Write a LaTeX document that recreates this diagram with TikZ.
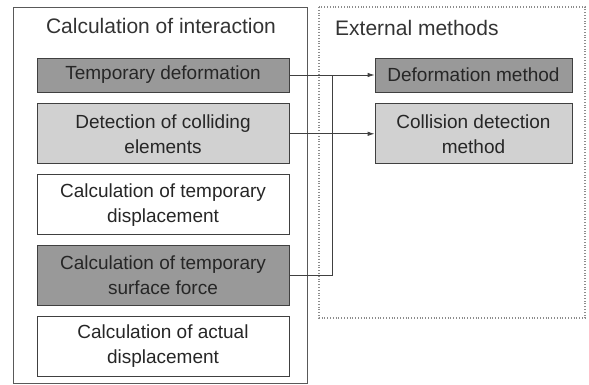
\documentclass[tikz,border=0pt]{standalone}
\usepackage{fontspec}
\setmainfont{Liberation Sans}
\usetikzlibrary{positioning,arrows.meta,calc}

\begin{document}
\begin{tikzpicture}[
  x=1pt, y=1pt,
  font=\fontsize{19}{25}\selectfont,
  box/.style={draw=black!75, line width=0.8pt, align=center, inner sep=2pt, minimum width=252pt, minimum height=60pt, text=black!85},
  dark/.style={box, fill=black!40},
  light/.style={box, fill=black!18},
  head/.style={font=\fontsize{21}{25}\selectfont, text=black!80, inner sep=0pt},
  arr/.style={-{Latex[length=7pt,width=4.5pt]}, draw=black!75, line width=0.8pt},
  wire/.style={draw=black!75, line width=0.8pt},
  frame/.style={draw=black!65, line width=0.8pt}
]
\useasboundingbox (0,0) rectangle (589,-385);
% frames
\draw[frame] (13,-7) rectangle (307,-383);
\draw[frame, dotted, line width=1.3pt, draw=black!45] (319,-7) rectangle (585,-318);
\node[head] (ttl) at (161,-26) {Calculation of interaction};
\node[head, anchor=west] (ext) at (335,-28) {External methods};

% steps of the interaction
\node[dark, minimum height=34pt] (tdef) at (163,-75) {Temporary deformation};
\node[light, below=11pt of tdef] (detc) {Detection of colliding\\elements};
\node[box, below=10pt of detc] (tdisp) {Calculation of temporary\\displacement};
\node[dark, below=10pt of tdisp] (sforce) {Calculation of temporary\\surface force};
\node[box, below=10pt of sforce] (adisp) {Calculation of actual\\displacement};

% external methods
\node[dark, minimum width=197pt, minimum height=34pt] (dmeth) at (473.5,-75) {Deformation method};
\node[light, minimum width=197pt, below=11pt of dmeth] (cmeth) {Collision detection\\method};

\coordinate (jn) at ([xshift=43pt]tdef.east);
\draw[arr] (tdef.east) -- (dmeth.west);
\draw[arr] (detc.east) -- (cmeth.west);
\draw[wire] (sforce.east) -| (jn);
\end{tikzpicture}
\end{document}
